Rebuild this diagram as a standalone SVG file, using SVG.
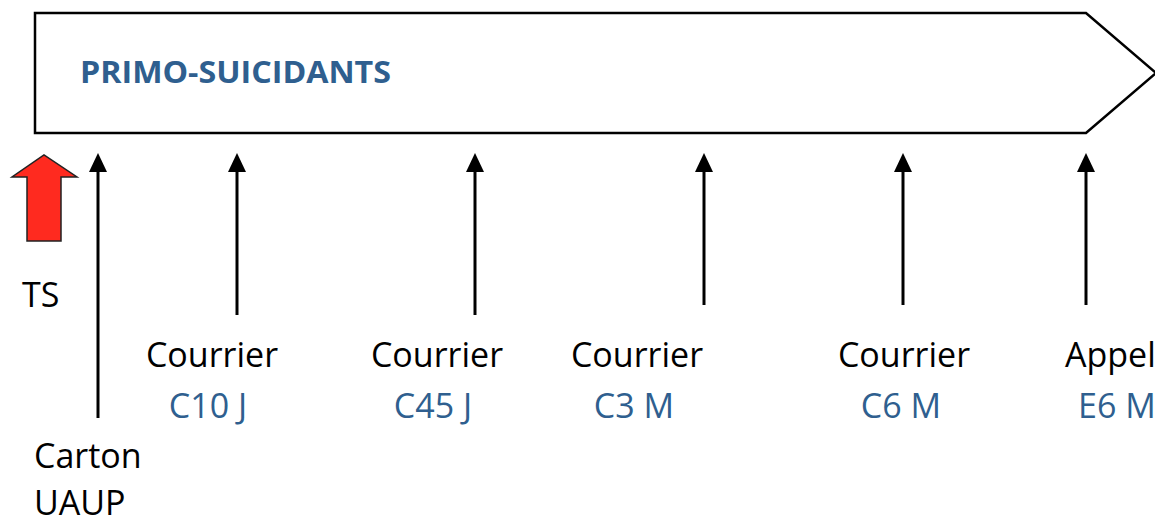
<svg xmlns="http://www.w3.org/2000/svg" width="1155" height="519" viewBox="0 0 1155 519">
<style>
.lbl{font-family:"Open Sans","Liberation Sans",sans-serif;font-size:34px;fill:#000}
.code{font-family:"Open Sans","Liberation Sans",sans-serif;font-size:34px;fill:#2F5F8F}
.title{font-family:"Open Sans","Liberation Sans",sans-serif;font-size:31px;font-weight:bold;fill:#2F5F8F}
.ln{stroke:#000;stroke-width:3;fill:none}
</style>
<defs>
<path id="head" d="M-9,19 L0,0 L9,19 Z" fill="#000"/>
</defs>
<rect width="1155" height="519" fill="#fff"/>
<g id="timeline">
<path d="M35,13 L1086,13 L1156,73 L1086,133 L35,133 Z" fill="#fff" stroke="#000" stroke-width="2.5"/>
<text class="title" x="80" y="83" textLength="311" lengthAdjust="spacingAndGlyphs">PRIMO-SUICIDANTS</text>
</g>
<g id="ts">
<path d="M27,241 L61,241 L61,177 L77,177 L44,155 L12,177 L27,177 Z" fill="#FF2A1F" stroke="#222" stroke-width="1.5"/>
<text class="lbl" x="22" y="307">TS</text>
</g>
<g id="connectors">
<line class="ln" x1="98" y1="170" x2="98" y2="418"/><use href="#head" x="98" y="153"/>
<line class="ln" x1="237" y1="170" x2="237" y2="315"/><use href="#head" x="237" y="153"/>
<line class="ln" x1="475" y1="170" x2="475" y2="315"/><use href="#head" x="475" y="153"/>
<line class="ln" x1="704" y1="170" x2="704" y2="305"/><use href="#head" x="704" y="153"/>
<line class="ln" x1="903" y1="170" x2="903" y2="305"/><use href="#head" x="903" y="153"/>
<line class="ln" x1="1086" y1="170" x2="1086" y2="305"/><use href="#head" x="1086" y="153"/>
</g>
<g id="carton">
<text class="lbl" x="34" y="468">Carton</text>
<text class="lbl" x="34" y="515">UAUP</text>
</g>
<g id="c10">
<text class="lbl" x="212" y="367" text-anchor="middle">Courrier</text>
<text class="code" x="208" y="418" text-anchor="middle">C10 J</text>
</g>
<g id="c45">
<text class="lbl" x="437" y="367" text-anchor="middle">Courrier</text>
<text class="code" x="433" y="418" text-anchor="middle">C45 J</text>
</g>
<g id="c3">
<text class="lbl" x="637" y="367" text-anchor="middle">Courrier</text>
<text class="code" x="634" y="418" text-anchor="middle">C3 M</text>
</g>
<g id="c6">
<text class="lbl" x="904" y="367" text-anchor="middle">Courrier</text>
<text class="code" x="901" y="418" text-anchor="middle">C6 M</text>
</g>
<g id="e6">
<text class="lbl" x="1065" y="367">Appel</text>
<text class="code" x="1078" y="418">E6 M</text>
</g>
</svg>
